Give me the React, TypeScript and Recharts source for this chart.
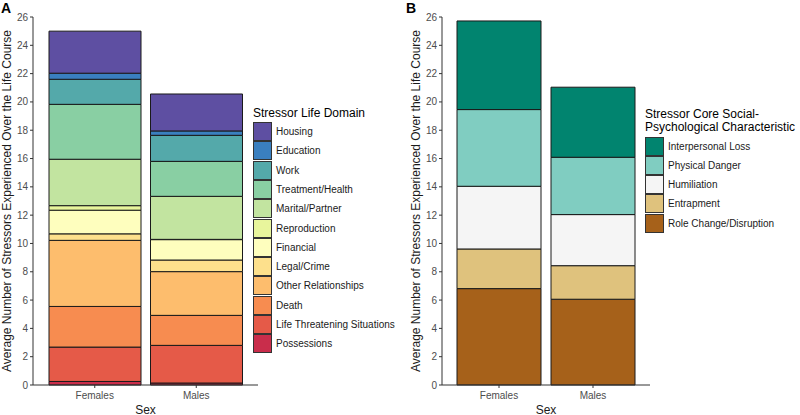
import { BarChart, Bar, XAxis, YAxis, Label } from 'recharts'

const sexes = ['Females', 'Males']
const yTicks = [0, 2, 4, 6, 8, 10, 12, 14, 16, 18, 20, 22, 24, 26]

// panel A, listed top of stack first (legend order)
const lifeDomains = [
  'Housing',
  'Education',
  'Work',
  'Treatment/Health',
  'Marital/Partner',
  'Reproduction',
  'Financial',
  'Legal/Crime',
  'Other Relationships',
  'Death',
  'Life Threatening Situations',
  'Possessions',
]
const lifeColors = [
  '#5e4fa2', '#3a7fbf', '#54a9aa', '#89cfa3', '#c2e4a0', '#e8f59c',
  '#fefebe', '#fde08c', '#fdbd6d', '#f78c50', '#e55a48', '#c92d4b',
]
const femalesByDomain = [2.97, 0.43, 1.77, 3.88, 3.28, 0.32, 1.67, 0.46, 4.67, 2.87, 2.43, 0.25]
const malesByDomain = [2.61, 0.31, 1.84, 2.47, 3.04, 0.02, 1.44, 0.82, 3.09, 2.12, 2.66, 0.14]

// panel B
const coreTraits = ['Interpersonal Loss', 'Physical Danger', 'Humiliation', 'Entrapment', 'Role Change/Disruption']
const coreColors = ['#01846f', '#80cdc1', '#f5f5f5', '#dfc27d', '#a6611a']
const femalesByTrait = [6.26, 5.42, 4.43, 2.8, 6.81]
const malesByTrait = [4.95, 4.05, 3.61, 2.37, 6.06]

const FONT = '"Liberation Sans", Arial, Helvetica, sans-serif'
const Y_TITLE = 'Average Number of Stressors Experienced Over the Life Course'

const toRows = (f: number[], m: number[]) =>
  sexes.map((sex, i) => {
    const vals = i === 0 ? f : m
    const row: Record<string, string | number> = { sex }
    vals.forEach((v, j) => (row[`d${j}`] = v))
    return row
  })

const lifeRows = toRows(femalesByDomain, malesByDomain)
const coreRows = toRows(femalesByTrait, malesByTrait)

const tickStyle = { fontSize: 10, fill: '#4d4d4d', fontFamily: FONT }

interface PanelProps {
  rows: Array<Record<string, string | number>>
  colors: string[]
  width: number
  yAxisWidth: number
  pad: number
  barSize: number
}

function StackPanel({ rows, colors, width, yAxisWidth, pad, barSize }: PanelProps) {
  // bottom of stack = last entry
  const order = colors.map((_, j) => colors.length - 1 - j)
  return (
    <BarChart
      width={width}
      height={415}
      data={rows}
      margin={{ top: 17, right: 2, bottom: 0, left: 0 }}
    >
      <XAxis
        dataKey="sex"
        height={30}
        padding={{ left: pad, right: pad }}
        stroke="#333"
        tickSize={3}
        tickMargin={4}
        tick={tickStyle}
      >
        <Label
          content={({ viewBox }: any) => (
            <text
              x={viewBox.x + viewBox.width / 2}
              y={viewBox.y + 28.5}
              textAnchor="middle"
              fontSize={12}
              fontFamily={FONT}
              fill="#1a1a1a"
            >
              Sex
            </text>
          )}
        />
      </XAxis>
      <YAxis
        width={yAxisWidth}
        domain={[0, 26]}
        ticks={yTicks}
        interval={0}
        stroke="#333"
        tickSize={3}
        tickMargin={2}
        tick={tickStyle}
      >
        <Label
          content={({ viewBox }: any) => {
            const cx = viewBox.x + viewBox.width - 22.5
            const cy = viewBox.y + viewBox.height / 2
            return (
              <text
                x={cx}
                y={cy}
                transform={`rotate(-90 ${cx} ${cy})`}
                textAnchor="middle"
                fontSize={12}
                fontFamily={FONT}
                fill="#1a1a1a"
              >
                {Y_TITLE}
              </text>
            )
          }}
        />
      </YAxis>
      {order.map((j) => (
        <Bar
          key={j}
          dataKey={`d${j}`}
          stackId="s"
          fill={colors[j]}
          stroke="#1a1a1a"
          strokeWidth={1}
          barSize={barSize}
          isAnimationActive={false}
        />
      ))}
    </BarChart>
  )
}

function KeyList({ title, names, colors, left, top, titleTop }: {
  title: string[]
  names: string[]
  colors: string[]
  left: number
  top: number
  titleTop: number
}) {
  return (
    <>
      {title.map((line, i) => (
        <div
          key={line}
          style={{
            position: 'absolute',
            left,
            top: titleTop + i * 12.7,
            fontSize: 12,
            lineHeight: '14px',
            color: '#000',
            whiteSpace: 'nowrap',
          }}
        >
          {line}
        </div>
      ))}
      {names.map((name, i) => (
        <div
          key={name}
          style={{ position: 'absolute', left, top: top + i * 19.3, display: 'flex', alignItems: 'center' }}
        >
          <div
            style={{
              width: 17,
              height: 17,
              background: colors[i],
              border: '1px solid #333',
              boxSizing: 'content-box',
            }}
          />
          <span style={{ fontSize: 10, marginLeft: 4, color: '#1a1a1a', whiteSpace: 'nowrap' }}>{name}</span>
        </div>
      ))}
    </>
  )
}

export default function App() {
  return (
    <div
      style={{
        position: 'absolute',
        left: 0,
        top: 0,
        width: 800,
        height: 415,
        background: '#fff',
        fontFamily: FONT,
        overflow: 'hidden',
      }}
    >
      <div style={{ position: 'absolute', left: 0, top: 0 }}>
        <StackPanel rows={lifeRows} colors={lifeColors} width={260} yAxisWidth={33} pad={11} barSize={92} />
      </div>
      <div style={{ position: 'absolute', left: 400, top: 0 }}>
        <StackPanel rows={coreRows} colors={coreColors} width={252} yAxisWidth={42} pad={10} barSize={84} />
      </div>
      <div style={{ position: 'absolute', left: 1, top: 0, fontSize: 14, fontWeight: 'bold', lineHeight: '16px' }}>A</div>
      <div style={{ position: 'absolute', left: 406, top: 0, fontSize: 14, fontWeight: 'bold', lineHeight: '16px' }}>B</div>
      <KeyList
        title={['Stressor Life Domain']}
        names={lifeDomains}
        colors={lifeColors}
        left={253}
        top={122}
        titleTop={106}
      />
      <KeyList
        title={['Stressor Core Social-', 'Psychological Characteristic']}
        names={coreTraits}
        colors={coreColors}
        left={645}
        top={136.5}
        titleTop={107}
      />
    </div>
  )
}
